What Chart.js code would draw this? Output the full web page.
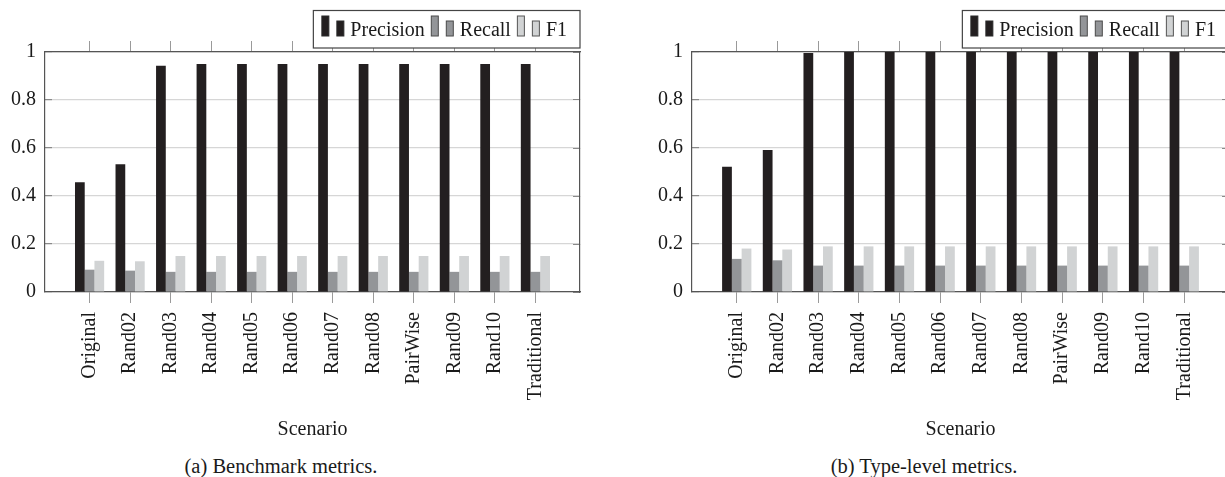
<!DOCTYPE html>
<html>
<head>
<meta charset="utf-8">
<script src="https://cdn.jsdelivr.net/npm/chart.js@4.4.1/dist/chart.umd.min.js"></script>
<style>
    html, body { margin: 0; padding: 0; background: #fff; }
    #wrap { position: relative; width: 1225px; height: 477px; overflow: hidden; background: #fff; }
    .panel { position: absolute; top: 0; width: 600px; height: 450px; }
    .caption { position: absolute; top: 454px; font: 20.5px "Liberation Serif", "Times New Roman", serif; color: #1a1a1a;
               white-space: nowrap; transform: translateX(-50%); line-height: 24px; }
</style>
</head>
<body>
<div id="wrap">
    <div class="panel" style="left:0"><canvas id="benchChart" width="600" height="450"></canvas></div>
    <div class="panel" style="left:647px"><canvas id="typeChart" width="600" height="450"></canvas></div>
    <div class="caption" style="left:281px">(a) Benchmark metrics.</div>
    <div class="caption" style="left:924px">(b) Type-level metrics.</div>
</div>
<script>
// data
var scenarios = ['Original', 'Rand02', 'Rand03', 'Rand04', 'Rand05', 'Rand06',
                 'Rand07', 'Rand08', 'PairWise', 'Rand09', 'Rand10', 'Traditional'];
var metricNames = ['Precision', 'Recall', 'F1'];
var yTicks = [0, 0.2, 0.4, 0.6, 0.8, 1];

// (a) Benchmark metrics
var benchPrecision = [0.457, 0.532, 0.943, 0.95, 0.95, 0.95, 0.95, 0.95, 0.95, 0.95, 0.95, 0.95];
var benchRecall    = [0.093, 0.089, 0.084, 0.084, 0.084, 0.084, 0.084, 0.084, 0.084, 0.084, 0.084, 0.084];
var benchF1        = [0.130, 0.128, 0.150, 0.150, 0.150, 0.150, 0.150, 0.150, 0.150, 0.150, 0.150, 0.150];

// (b) Type-level metrics
var typePrecision = [0.522, 0.592, 0.996, 1, 1, 1, 1, 1, 1, 1, 1, 1];
var typeRecall    = [0.138, 0.132, 0.110, 0.110, 0.110, 0.110, 0.110, 0.110, 0.110, 0.110, 0.110, 0.110];
var typeF1        = [0.181, 0.177, 0.190, 0.190, 0.190, 0.190, 0.190, 0.190, 0.190, 0.190, 0.190, 0.190];

var barColors = ['#231f20', '#939598', '#d1d3d4'];
var iconBorders = ['#2a2a2a', '#4a4a4a', '#555555'];
var SERIF = '"Liberation Serif", "Times New Roman", serif';
var TEXT = '#1a1a1a';

function fixedTicks(values) {
    return function (scale) {
        scale.ticks = values.map(function (v) { return { value: v }; });
    };
}

// pgfplots-style legend: boxed, two little bars per entry
var boxLegend = {
    id: 'boxLegend',
    afterDraw: function (chart) {
        var ctx = chart.ctx, area = chart.chartArea;
        var sets = chart.data.datasets;
        ctx.save();
        ctx.font = '20px ' + SERIF;
        var padL = 8, padR = 13, iconW = 23, gapIcon = 6, gapItem = 6;
        var total = padL + padR;
        sets.forEach(function (ds, i) {
            total += iconW + gapIcon + ctx.measureText(ds.label).width;
            if (i < sets.length - 1) total += gapItem;
        });
        var left = area.right - total, top = 10.5, h = 37.5;
        ctx.fillStyle = '#fff';
        ctx.fillRect(left, top, total, h);
        ctx.strokeStyle = '#444';
        ctx.lineWidth = 1.2;
        ctx.strokeRect(left, top, total, h);

        var x = left + padL;
        sets.forEach(function (ds, i) {
            ctx.fillStyle = ds.backgroundColor;
            ctx.strokeStyle = iconBorders[i];
            ctx.lineWidth = 1;
            ctx.fillRect(x + 0.5, 16, 7, 20);
            ctx.strokeRect(x + 0.5, 16, 7, 20);
            ctx.fillRect(x + 15.5, 21, 7, 15);
            ctx.strokeRect(x + 15.5, 21, 7, 15);
            x += iconW + gapIcon;
            ctx.fillStyle = TEXT;
            ctx.textBaseline = 'alphabetic';
            ctx.fillText(ds.label, x, 35.5);
            x += ctx.measureText(ds.label).width + gapItem;
        });
        ctx.restore();
    }
};

function buildChart(id, precision, recall, f1, padRight) {
    var pts = function (arr) { return arr.map(function (v, i) { return { x: i, y: v }; }); };
    var xIdx = scenarios.map(function (s, i) { return i; });
    var xMin = -1.1, xMax = scenarios.length - 1 + 1.1;
    var series = [precision, recall, f1];

    return new Chart(document.getElementById(id), {
        type: 'bar',
        data: {
            datasets: series.map(function (s, i) {
                return {
                    label: metricNames[i],
                    data: pts(s),
                    backgroundColor: barColors[i],
                    borderWidth: 0
                };
            })
        },
        options: {
            responsive: false,
            animation: false,
            layout: { padding: { top: 41, right: padRight, left: 0, bottom: 0 } },
            datasets: { bar: { categoryPercentage: 0.72, barPercentage: 1.0 } },
            plugins: {
                legend: { display: false },
                tooltip: { enabled: false }
            },
            scales: {
                x: {
                    type: 'linear', position: 'bottom', min: xMin, max: xMax, offset: false,
                    afterBuildTicks: fixedTicks(xIdx),
                    afterFit: function (s) { s.height = 158; },
                    grid: { offset: false, drawOnChartArea: false, tickLength: 11, color: '#9a9a9a', lineWidth: 1 },
                    border: { color: '#555', width: 1.2 },
                    ticks: {
                        autoSkip: false, minRotation: 90, maxRotation: 90, padding: 9,
                        color: TEXT, font: { family: SERIF, size: 20 },
                        callback: function (v) { return scenarios[v]; }
                    },
                    title: {
                        display: true, text: 'Scenario', color: TEXT,
                        font: { family: SERIF, size: 20 }, padding: { top: 0, bottom: 8 }
                    }
                },
                x2: {
                    type: 'linear', position: 'top', min: xMin, max: xMax, offset: false,
                    afterBuildTicks: fixedTicks(xIdx),
                    afterFit: function (s) { s.height = 11; },
                    grid: { offset: false, drawOnChartArea: false, tickLength: 11, color: '#9a9a9a', lineWidth: 1 },
                    border: { color: '#555', width: 1.2 },
                    ticks: { display: false }
                },
                y: {
                    position: 'left', min: 0, max: 1,
                    afterBuildTicks: fixedTicks(yTicks),
                    afterFit: function (s) { s.width = 45; },
                    grid: { color: '#d6d6d6', lineWidth: 1.2, tickLength: -7, tickColor: '#8a8a8a' },
                    border: { color: '#555', width: 1.2 },
                    ticks: {
                        padding: 16, color: TEXT, font: { family: SERIF, size: 20 },
                        callback: function (v) { return String(v); }
                    }
                },
                yR: {
                    position: 'right', min: 0, max: 1,
                    afterBuildTicks: fixedTicks(yTicks),
                    afterFit: function (s) { s.width = 0; },
                    grid: { drawOnChartArea: false, tickLength: -7, tickColor: '#8a8a8a' },
                    border: { color: '#555', width: 1.2 },
                    ticks: { display: false }
                }
            }
        },
        plugins: [boxLegend]
    });
}

buildChart('benchChart', benchPrecision, benchRecall, benchF1, 20);
buildChart('typeChart', typePrecision, typeRecall, typeF1, 18);
</script>
</body>
</html>
